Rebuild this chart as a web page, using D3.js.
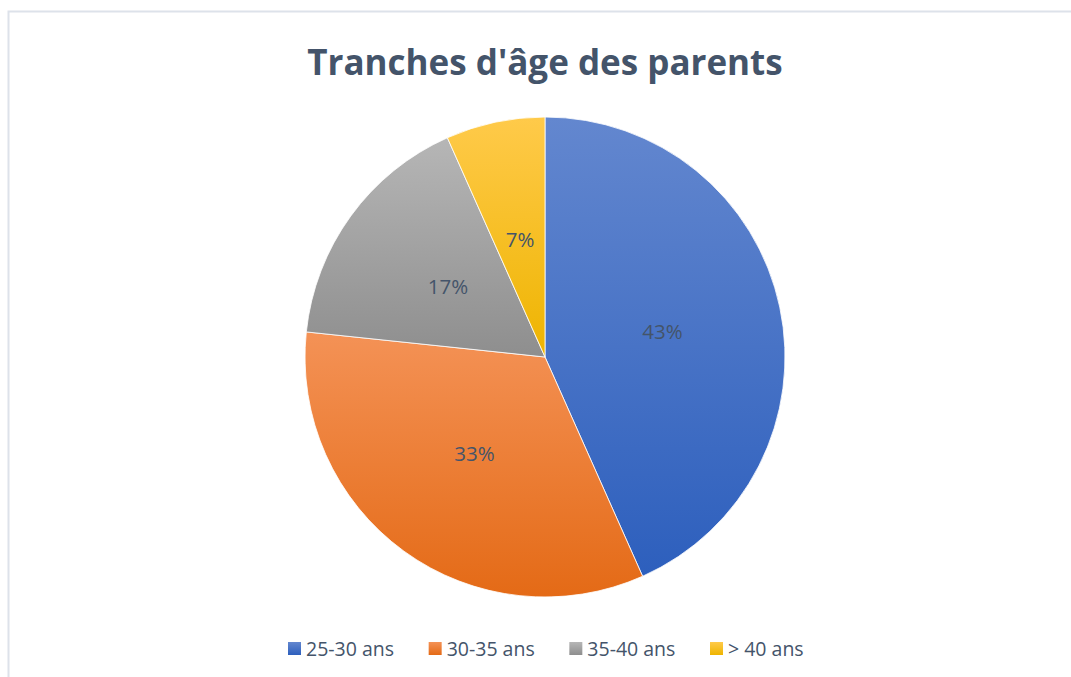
<!DOCTYPE html>
<html>
<head>
<meta charset="utf-8">
<script src="https://cdn.jsdelivr.net/npm/d3@7"></script>
<style>
  body { margin: 0; background: #fff; }
</style>
</head>
<body>
<div id="chart"></div>
<script>
const categories = ["25-30 ans", "30-35 ans", "35-40 ans", "> 40 ans"];
const values = [13, 10, 5, 2];
const colorsTop = ["#6387cf", "#f49256", "#b6b6b6", "#ffca4a"];
const colorsBottom = ["#2d5fbd", "#e46a16", "#8e8e8e", "#eeb400"];

const width = 1071, height = 677;
const cx = 545, cy = 357, radius = 240;
const textColor = "#44546a";

const svg = d3.select("#chart").append("svg")
    .attr("width", width)
    .attr("height", height);

// frame (only left and top edges show in the picture)
svg.append("rect")
    .attr("x", 8.5)
    .attr("y", 11.5)
    .attr("width", width + 20)
    .attr("height", height + 20)
    .attr("fill", "#fff")
    .attr("stroke", "#dde2ea")
    .attr("stroke-width", 2);

// title
svg.append("text")
    .attr("x", cx)
    .attr("y", 75)
    .attr("text-anchor", "middle")
    .attr("font-family", "'Open Sans', sans-serif")
    .attr("font-weight", "bold")
    .attr("font-size", "35px")
    .attr("fill", textColor)
    .text("Tranches d'âge des parents");

// gradients per slice
const defs = svg.append("defs");
categories.forEach((c, i) => {
    const g = defs.append("linearGradient")
        .attr("id", "grad" + i)
        .attr("x1", 0).attr("y1", 0)
        .attr("x2", 0).attr("y2", 1);
    g.append("stop").attr("offset", "0%").attr("stop-color", colorsTop[i]);
    g.append("stop").attr("offset", "100%").attr("stop-color", colorsBottom[i]);
});

const data = categories.map((c, i) => ({cat: c, value: values[i], i: i}));
const total = d3.sum(values);

const pie = d3.pie().value(d => d.value).sort(null);
const arc = d3.arc().innerRadius(0).outerRadius(radius);
const labelArc = d3.arc().innerRadius(radius / 2).outerRadius(radius / 2);

const pie_g = svg.append("g")
    .attr("transform", `translate(${cx},${cy})`);

const arcs = pie(data);

pie_g.selectAll("path")
    .data(arcs)
    .enter().append("path")
    .attr("d", arc)
    .attr("fill", d => `url(#grad${d.data.i})`)
    .attr("stroke", "#fff")
    .attr("stroke-width", 0.8);

pie_g.selectAll("text")
    .data(arcs)
    .enter().append("text")
    .attr("transform", d => `translate(${labelArc.centroid(d)})`)
    .attr("text-anchor", "middle")
    .attr("dy", "0.36em")
    .attr("font-family", "'Open Sans', sans-serif")
    .attr("font-size", "20.5px")
    .attr("fill", textColor)
    .text(d => Math.round(d.data.value / total * 100) + "%");

// legend
const legendX = d3.scalePoint()
    .domain(categories)
    .range([288, 710]);

const legend_g = svg.append("g");
const items = legend_g.selectAll("g")
    .data(data)
    .enter().append("g")
    .attr("transform", d => `translate(${legendX(d.cat)},642)`);

items.append("rect")
    .attr("width", 13)
    .attr("height", 13)
    .attr("fill", d => `url(#grad${d.i})`);

items.append("text")
    .attr("x", 18)
    .attr("y", 13.5)
    .attr("font-family", "'Open Sans', sans-serif")
    .attr("font-size", "19.5px")
    .attr("fill", textColor)
    .text(d => d.cat);
</script>
</body>
</html>
